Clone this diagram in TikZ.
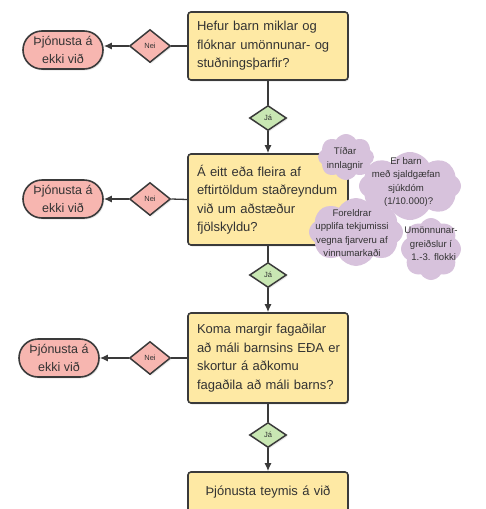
\documentclass[tikz,border=0pt]{standalone}
\usepackage{fontspec}
\setmainfont{Liberation Sans}
\usetikzlibrary{shapes.geometric,shapes.symbols,arrows.meta,shadows}
\definecolor{boxfill}{HTML}{FEE9A4}
\definecolor{termfill}{HTML}{F7B6B0}
\definecolor{jafill}{HTML}{C9E7B3}
\definecolor{cloudfill}{HTML}{D7C2DC}
\definecolor{edgec}{HTML}{3A3A3A}
\definecolor{textc}{HTML}{333333}
\begin{document}
\begin{tikzpicture}[x=1pt,y=-1pt,
  shad/.style={drop shadow={opacity=0.18,shadow xshift=1.2pt,shadow yshift=-1.5pt}},
  qbox/.style={draw=edgec,line width=1.6pt,fill=boxfill,rounded corners=3pt,
    minimum width=160pt,text width=142pt,align=left,inner sep=9pt,
    font=\fontsize{13}{18.5}\selectfont,text=textc,shad},
  term/.style={draw=edgec,line width=1.6pt,fill=termfill,rounded corners=19pt,
    minimum width=80pt,minimum height=38pt,align=center,inner sep=2pt,
    font=\fontsize{12.5}{17.5}\selectfont,text=textc,shad},
  nei/.style={diamond,draw=edgec,line width=1.5pt,fill=termfill,minimum width=41pt,
    minimum height=33pt,inner sep=0pt,font=\fontsize{7.5}{8}\selectfont,text=textc,shad},
  ja/.style={diamond,draw=edgec,line width=1.5pt,fill=jafill,minimum width=37pt,
    minimum height=25pt,inner sep=0pt,font=\fontsize{7.5}{8}\selectfont,text=textc,shad},
  cloudbg/.style={cloud,cloud puffs=8,cloud puff arc=120,cloud ignores aspect,
    fill=cloudfill,draw=none,inner sep=0pt},
  cloudtxt/.style={align=center,inner sep=0pt,font=\fontsize{9.6}{13.5}\selectfont,text=textc},
  line/.style={draw=edgec,line width=1.3pt},
  arr/.style={line,-{Latex[length=8pt,width=7pt]}}
]
\useasboundingbox (0,0) rectangle (486,509);

% question boxes
\node[qbox,minimum height=68pt] (b1) at (268,46) {Hefur barn miklar og\\flóknar umönnunar- og\\stuðningsþarfir?};
\node[qbox,minimum height=91pt] (b2) at (268,199.5) {Á eitt eða fleira af\\\mbox{eftirtöldum staðreyndum}\\við um aðstæður\\fjölskyldu?};
\node[qbox,minimum height=90pt] (b3) at (268,358) {Koma margir fagaðilar\\\mbox{að máli barnsins EÐA er}\\skortur á aðkomu\\\mbox{fagaðila að máli barns?}};
\node[qbox,minimum height=40pt,align=center] (b4) at (268,492) {Þjónusta teymis á við};

% decision diamonds
\node[nei] (n1) at (150,46) {Nei};
\node[nei] (n2) at (150,199) {Nei};
\node[nei] (n3) at (150,358) {Nei};
\node[ja] (j1) at (268,118) {Já};
\node[ja] (j2) at (268,275) {Já};
\node[ja] (j3) at (268,435) {Já};

% terminals
\node[term] (t1) at (63,50) {Þjónusta á\\ekki við};
\node[term] (t2) at (63,199) {Þjónusta á\\ekki við};
\node[term] (t3) at (59,358) {Þjónusta á\\ekki við};

% connectors
\draw[line] (b1.west) -- (n1.east);
\draw[arr] (n1.west) -- (n1.west -| t1.east);
\draw[line] (b2.west) -- (n2.east);
\draw[arr] (n2.west) -- (n2.west -| t2.east);
\draw[line] (b3.west) -- (n3.east);
\draw[arr] (n3.west) -- (n3.west -| t3.east);
\draw[line] (b1.south) -- (j1.north);
\draw[arr] (j1.south) -- (b2.north);
\draw[line] (b2.south) -- (j2.north);
\draw[arr] (j2.south) -- (b3.north);
\draw[line] (b3.south) -- (j3.north);
\draw[arr] (j3.south) -- (b4.north);

% clouds
\node[cloudbg,minimum width=56pt,minimum height=46pt] (c1bg) at (346,157) {};
\node[cloudbg,minimum width=102pt,minimum height=68pt] (c2bg) at (410,186) {};
\node[cloudbg,minimum width=94pt,minimum height=68pt] (c3bg) at (356,232) {};
\node[cloudbg,minimum width=60pt,minimum height=62pt] (c4bg) at (431,249) {};
\node[cloudtxt] (c1) at (345,159) {Tíðar\\innlagnir};
\node[cloudtxt] (c2) at (406,182) {Er barn\\með sjaldgæfan\\sjúkdóm\\\ \ (1/10.000)?};
\node[cloudtxt] (c3) at (352,233) {Foreldrar\\upplifa tekjumissi\\vegna fjarveru af\\vinnumarkaði};
\node[cloudtxt] (c4) at (431,244) {Umönnunar-\\greiðslur í\\\ \ 1.-3. flokki};
\end{tikzpicture}
\end{document}
